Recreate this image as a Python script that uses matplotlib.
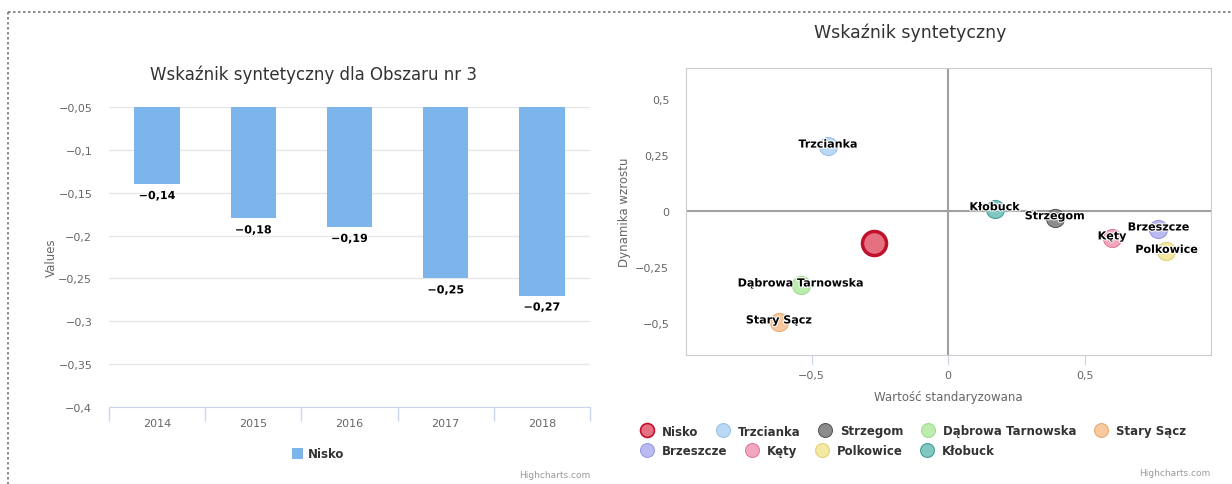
import matplotlib
matplotlib.use('Agg')
import matplotlib.pyplot as plt
import matplotlib.patheffects as pe
from matplotlib.lines import Line2D
from matplotlib.ticker import FuncFormatter, FixedLocator

# left chart data
years = ['2014', '2015', '2016', '2017', '2018']
nisko_vals = [-0.14, -0.18, -0.19, -0.25, -0.27]

# right chart data
names = ['Nisko', 'Trzcianka', 'Strzegom', 'Dąbrowa Tarnowska', 'Stary Sącz',
         'Brzeszcze', 'Kęty', 'Polkowice', 'Kłobuck']
x_std = [-0.27, -0.44, 0.39, -0.54, -0.62, 0.77, 0.60, 0.80, 0.17]
y_dyn = [-0.143, 0.29, -0.03, -0.33, -0.495, -0.08, -0.12, -0.18, 0.01]
fills = ['#e47080', '#b9d9f5', '#8c8c8c', '#bdedae', '#f8c89f',
         '#bbbbf3', '#f3a6bd', '#f4e8a3', '#80c6c1']
edges = ['#c0102c', '#9cc4ea', '#5a5a5a', '#a0dc90', '#e8ad78',
         '#9b9be2', '#e07c9a', '#e2d27a', '#45a09a']

W, H = 1232, 485
fig = plt.figure(figsize=(W / 100, H / 100), dpi=100)
plt.rcParams['font.family'] = ['DejaVu Sans']


def fx(px):
    return px / W


def fy(py):
    return 1 - py / H


def fmt(v, pos=None):
    v = round(v, 4)
    if v == 0:
        return '0'
    return ('%g' % v).replace('.', ',').replace('-', '\u2212')


outline = [pe.withStroke(linewidth=1.5, foreground='white')]

# dotted frame
fig.add_artist(Line2D([fx(8), 1], [fy(13), fy(13)], transform=fig.transFigure,
                      color='#777777', lw=1.2, ls=(0, (1.5, 1.5))))
fig.add_artist(Line2D([fx(8), fx(8)], [fy(13), 0], transform=fig.transFigure,
                      color='#777777', lw=1.2, ls=(0, (1.5, 1.5))))

# ---------- left: bar chart ----------
ax1 = fig.add_axes([fx(109), fy(408), fx(590 - 109), (408 - 108) / H])
xpos = list(range(len(years)))
bars = ax1.bar(xpos, nisko_vals, width=0.47, color='#7cb5ec', label='Nisko', zorder=3)
ax1.set_xlim(-0.5, len(years) - 0.5)
ax1.set_ylim(-0.4, -0.05)
ax1.set_yticks([-0.4, -0.35, -0.3, -0.25, -0.2, -0.15, -0.1, -0.05])
ax1.yaxis.set_major_formatter(FuncFormatter(fmt))
ax1.grid(axis='y', color='#e6e6e6', lw=1, zorder=0)
ax1.set_xticks(xpos)
ax1.set_xticklabels(years)
ax1.xaxis.set_minor_locator(FixedLocator([i - 0.5 for i in range(len(years) + 1)]))
ax1.tick_params(axis='x', which='major', length=0, pad=8, labelsize=8, labelcolor='#666666')
ax1.tick_params(axis='x', which='minor', length=10, color='#ccd6eb', width=1)
ax1.tick_params(axis='y', length=0, pad=12, labelsize=8, labelcolor='#666666')
for s in ['top', 'right', 'left']:
    ax1.spines[s].set_visible(False)
ax1.spines['bottom'].set_color('#ccd6eb')
ax1.set_ylabel('Values', color='#666666', fontsize=8.5, labelpad=0)
for xi, v in zip(xpos, nisko_vals):
    ax1.annotate(fmt(v), (xi, v), xytext=(0, -5), textcoords='offset points',
                 ha='center', va='top', fontsize=8, fontweight='bold', color='#000000',
                 path_effects=outline)
leg1 = ax1.legend(handles=[bars], loc='center', bbox_to_anchor=(fx(318), fy(455)),
                  bbox_transform=fig.transFigure, frameon=False, handlelength=1.0,
                  handleheight=1.0, handletextpad=0.4, prop={'size': 8.5, 'weight': 'bold'})
for t in leg1.get_texts():
    t.set_color('#333333')
fig.text(fx(313), fy(75), 'Wskaźnik syntetyczny dla Obszaru nr 3', ha='center', va='center',
         fontsize=12, color='#333333')
fig.text(fx(590), fy(476), 'Highcharts.com', ha='right', va='center', fontsize=6.5, color='#999999')

# ---------- right: scatter ----------
ax2 = fig.add_axes([fx(686), fy(356), fx(1211 - 686), (356 - 69) / H])
ax2.set_xlim(-0.96, 0.963)
ax2.set_ylim(-0.643, 0.638)
ax2.axhline(0, color='#a0a0a0', lw=1.5, zorder=1)
ax2.axvline(0, color='#a0a0a0', lw=1.5, zorder=1)
handles = []
for i, n in enumerate(names):
    big = (n == 'Nisko')
    ax2.scatter([x_std[i]], [y_dyn[i]], s=(300 if big else 170), color=fills[i],
                edgecolors=edges[i], linewidths=(2.5 if big else 0.8), zorder=3)
    if not big:
        ax2.annotate(n, (x_std[i], y_dyn[i]), xytext=(0, 1), textcoords='offset points',
                     ha='center', va='center', fontsize=8, fontweight='bold',
                     color='#000000', path_effects=outline, zorder=4)
    handles.append(Line2D([], [], ls='none', marker='o', markersize=10,
                          markerfacecolor=fills[i], markeredgecolor=edges[i],
                          markeredgewidth=(1.2 if big else 0.8), label=n))
ax2.set_xticks([-0.5, 0, 0.5])
ax2.set_yticks([-0.5, -0.25, 0, 0.25, 0.5])
ax2.xaxis.set_major_formatter(FuncFormatter(fmt))
ax2.yaxis.set_major_formatter(FuncFormatter(fmt))
ax2.tick_params(axis='x', length=7, color='#ccd6eb', pad=4, labelsize=8, labelcolor='#666666')
ax2.tick_params(axis='y', length=0, pad=12, labelsize=8, labelcolor='#666666')
for s in ax2.spines.values():
    s.set_color('#cccccc')
ax2.set_xlabel('Wartość standaryzowana', color='#666666', fontsize=8.5, labelpad=7)
ax2.set_ylabel('Dynamika wzrostu', color='#666666', fontsize=8.5, labelpad=3)

legkw = dict(bbox_transform=fig.transFigure, frameon=False, handlelength=1.0,
             handletextpad=0.75, columnspacing=1.6, borderaxespad=0, borderpad=0,
             prop={'size': 8.5, 'weight': 'bold'})
lr1 = ax2.legend(handles=handles[:5], loc='center left', bbox_to_anchor=(fx(641), fy(432)),
                 ncol=5, **legkw)
ax2.add_artist(lr1)
lr2 = ax2.legend(handles=handles[5:], loc='center left', bbox_to_anchor=(fx(641), fy(452)),
                 ncol=4, **legkw)
for lg in (lr1, lr2):
    for t in lg.get_texts():
        t.set_color('#333333')
fig.text(fx(910), fy(33), 'Wskaźnik syntetyczny', ha='center', va='center',
         fontsize=12.5, color='#333333')
fig.text(fx(1210), fy(474), 'Highcharts.com', ha='right', va='center', fontsize=6.5, color='#999999')

fig.savefig('out.png', dpi=100)
